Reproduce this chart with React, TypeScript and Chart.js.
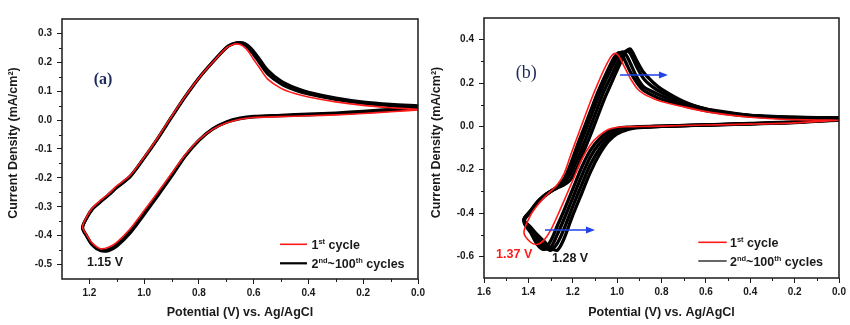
import React, { useEffect, useRef } from 'react';
import { Chart, registerables } from 'chart.js';

Chart.register(...registerables);

const FONT = '"Liberation Sans", Arial, Helvetica, sans-serif';
const SERIF = '"Liberation Serif", "Times New Roman", serif';
const X_TITLE = 'Potential (V) vs. Ag/AgCl';
const Y_TITLE = 'Current Density (mA/cm\u00B2)';

// ---------------- Panel (a) ----------------
const POT_A_FWD = [0, 0.1, 0.2, 0.3, 0.4, 0.5, 0.6, 0.65, 0.7, 0.75, 0.8, 0.85, 0.9, 0.95, 1.0, 1.05, 1.1, 1.13, 1.16, 1.19, 1.21, 1.225];
const POT_A_REV = [1.225, 1.21, 1.19, 1.16, 1.13, 1.1, 1.05, 1.0, 0.95, 0.9, 0.85, 0.8, 0.75, 0.7, 0.68, 0.66, 0.64, 0.62, 0.6, 0.58, 0.55, 0.5, 0.45, 0.4, 0.3, 0.2, 0.1, 0.0];

const A_FIRST_FWD = [0.035, 0.029, 0.023, 0.018, 0.015, 0.012, 0.009, 0.003, -0.01, -0.032, -0.068, -0.12, -0.185, -0.25, -0.313, -0.375, -0.423, -0.44, -0.445, -0.425, -0.397, -0.37];
const A_FIRST_REV = [-0.37, -0.335, -0.305, -0.278, -0.255, -0.228, -0.19, -0.128, -0.06, 0.013, 0.083, 0.146, 0.2, 0.25, 0.26, 0.264, 0.257, 0.238, 0.21, 0.183, 0.143, 0.11, 0.092, 0.08, 0.063, 0.051, 0.043, 0.037];

const A_C2_FWD = [0.04, 0.033, 0.027, 0.022, 0.018, 0.015, 0.011, 0.005, -0.008, -0.032, -0.07, -0.123, -0.19, -0.256, -0.32, -0.382, -0.43, -0.448, -0.45, -0.43, -0.4, -0.372];
const A_C2_REV = [-0.372, -0.338, -0.308, -0.282, -0.258, -0.232, -0.193, -0.13, -0.062, 0.011, 0.082, 0.146, 0.201, 0.252, 0.263, 0.268, 0.264, 0.25, 0.226, 0.2, 0.161, 0.125, 0.104, 0.09, 0.071, 0.058, 0.05, 0.045];

const A_C100_FWD = [0.047, 0.038, 0.031, 0.025, 0.021, 0.017, 0.013, 0.007, -0.006, -0.03, -0.07, -0.125, -0.195, -0.262, -0.327, -0.39, -0.437, -0.452, -0.452, -0.432, -0.402, -0.374];
const A_C100_REV = [-0.374, -0.34, -0.31, -0.284, -0.26, -0.234, -0.195, -0.132, -0.064, 0.009, 0.08, 0.145, 0.2, 0.25, 0.262, 0.268, 0.268, 0.258, 0.238, 0.213, 0.174, 0.135, 0.112, 0.097, 0.077, 0.063, 0.055, 0.05];

const X_TICKS_A = [1.2, 1.0, 0.8, 0.6, 0.4, 0.2, 0.0];
const X_MINOR_A = [1.1, 0.9, 0.7, 0.5, 0.3, 0.1];
const Y_TICKS_A = [-0.5, -0.4, -0.3, -0.2, -0.1, 0.0, 0.1, 0.2, 0.3];
const Y_MINOR_A = [-0.45, -0.35, -0.25, -0.15, -0.05, 0.05, 0.15, 0.25];

// ---------------- Panel (b) ----------------
const POT_B_FWD = [0, 0.2, 0.4, 0.6, 0.8, 0.9, 0.95, 1.0, 1.04, 1.08, 1.12, 1.16, 1.2, 1.24, 1.27, 1.3, 1.33, 1.36, 1.39, 1.42];
const POT_B_REV = [1.42, 1.39, 1.36, 1.33, 1.3, 1.27, 1.24, 1.21, 1.18, 1.15, 1.12, 1.09, 1.06, 1.03, 1.015, 1.0, 0.985, 0.97, 0.955, 0.94, 0.91, 0.88, 0.84, 0.8, 0.7, 0.6, 0.5, 0.4, 0.3, 0.2, 0.1, 0.0];

const B_FIRST_FWD = [0.028, 0.016, 0.01, 0.006, 0.001, -0.001, -0.002, -0.004, -0.015, -0.042, -0.085, -0.155, -0.25, -0.345, -0.415, -0.48, -0.525, -0.545, -0.535, -0.49];
const B_FIRST_REV = [-0.49, -0.41, -0.365, -0.33, -0.3, -0.27, -0.22, -0.135, -0.05, 0.033, 0.115, 0.19, 0.26, 0.318, 0.335, 0.333, 0.312, 0.28, 0.25, 0.22, 0.175, 0.15, 0.13, 0.115, 0.09, 0.068, 0.053, 0.042, 0.035, 0.031, 0.029, 0.028];

const B_C2_FWD = [0.029, 0.017, 0.011, 0.006, 0.001, -0.002, -0.004, -0.01, -0.025, -0.058, -0.11, -0.19, -0.29, -0.39, -0.46, -0.53, -0.568, -0.545, -0.49, -0.44];
const B_C2_REV = [-0.44, -0.395, -0.355, -0.325, -0.302, -0.28, -0.245, -0.175, -0.09, -0.01, 0.07, 0.15, 0.22, 0.285, 0.315, 0.335, 0.338, 0.315, 0.282, 0.25, 0.2, 0.165, 0.143, 0.125, 0.096, 0.073, 0.058, 0.047, 0.041, 0.037, 0.035, 0.034];

const B_C10_FWD = [0.03, 0.018, 0.012, 0.006, 0.0, -0.003, -0.007, -0.018, -0.04, -0.08, -0.14, -0.23, -0.33, -0.43, -0.5, -0.56, -0.565, -0.53, -0.48, -0.435];
const B_C10_REV = [-0.435, -0.393, -0.353, -0.323, -0.3, -0.28, -0.25, -0.195, -0.12, -0.04, 0.04, 0.12, 0.195, 0.26, 0.29, 0.318, 0.338, 0.342, 0.322, 0.29, 0.225, 0.182, 0.16, 0.14, 0.103, 0.077, 0.06, 0.049, 0.043, 0.039, 0.037, 0.036];

const B_C50_FWD = [0.031, 0.019, 0.012, 0.007, 0.0, -0.004, -0.01, -0.026, -0.055, -0.105, -0.175, -0.27, -0.37, -0.475, -0.54, -0.572, -0.55, -0.515, -0.47, -0.43];
const B_C50_REV = [-0.43, -0.39, -0.35, -0.32, -0.3, -0.282, -0.26, -0.22, -0.155, -0.08, 0.0, 0.08, 0.16, 0.225, 0.258, 0.29, 0.318, 0.34, 0.348, 0.335, 0.272, 0.22, 0.182, 0.156, 0.11, 0.08, 0.062, 0.051, 0.045, 0.041, 0.039, 0.038];

const B_C100_FWD = [0.032, 0.02, 0.013, 0.007, 0.0, -0.006, -0.014, -0.035, -0.07, -0.13, -0.21, -0.31, -0.41, -0.52, -0.572, -0.56, -0.53, -0.5, -0.465, -0.43];
const B_C100_REV = [-0.43, -0.39, -0.35, -0.32, -0.3, -0.285, -0.27, -0.245, -0.19, -0.115, -0.04, 0.04, 0.12, 0.19, 0.225, 0.26, 0.293, 0.325, 0.35, 0.356, 0.3, 0.248, 0.205, 0.172, 0.115, 0.081, 0.064, 0.05, 0.046, 0.042, 0.04, 0.04];

const X_TICKS_B = [1.6, 1.4, 1.2, 1.0, 0.8, 0.6, 0.4, 0.2, 0.0];
const X_MINOR_B = [1.5, 1.3, 1.1, 0.9, 0.7, 0.5, 0.3, 0.1];
const Y_TICKS_B = [-0.6, -0.4, -0.2, 0.0, 0.2, 0.4];
const Y_MINOR_B = [-0.5, -0.3, -0.1, 0.1, 0.3];

// legend labels (normal, superscript, normal, ...)
const LEGEND_FIRST = ['1', 'st', ' cycle'];
const LEGEND_REST = ['2', 'nd', '~100', 'th', ' cycles'];

function loop(fx: number[], fy: number[], rx: number[], ry: number[]) {
  const pts = fx.map((x, i) => ({ x, y: fy[i] }));
  rx.forEach((x, i) => {
    if (i > 0) pts.push({ x, y: ry[i] });
  });
  return pts;
}

function line(data: any[], color: string, width: number, order: number) {
  return {
    data,
    showLine: true,
    borderColor: color,
    backgroundColor: color,
    borderWidth: width,
    pointRadius: 0,
    tension: 0.3,
    borderJoinStyle: 'round',
    borderCapStyle: 'round',
    fill: false,
    order,
  };
}

type Decor = {
  xMinor: number[];
  yMinor: number[];
  yTitleX: number;
  yTitleY: number;
  label: { text: string; font: string; v: number; i: number };
  notes: { text: string; color: string; v: number; i: number }[];
  arrows: { v1: number; v2: number; i: number }[];
  legend: { x1: number; x2: number; tx: number; rows: { dy: number; color: string; width: number; parts: string[] }[] };
};

function makeDecor(d: Decor) {
  return {
    id: 'decor',
    afterDraw(chart: any) {
      const { ctx, chartArea: a, scales } = chart;
      const xs = scales.x;
      const ys = scales.y;
      ctx.save();
      // frame
      ctx.strokeStyle = '#1a1a1a';
      ctx.lineWidth = 1.5;
      ctx.strokeRect(a.left, a.top, a.right - a.left, a.bottom - a.top);
      // minor ticks
      ctx.lineWidth = 1;
      ctx.beginPath();
      d.xMinor.forEach((v) => {
        const px = Math.round(xs.getPixelForValue(v)) + 0.5;
        ctx.moveTo(px, a.bottom);
        ctx.lineTo(px, a.bottom + 3);
      });
      d.yMinor.forEach((v) => {
        const py = Math.round(ys.getPixelForValue(v)) + 0.5;
        ctx.moveTo(a.left - 3, py);
        ctx.lineTo(a.left, py);
      });
      ctx.stroke();

      // y title
      ctx.save();
      ctx.translate(d.yTitleX, d.yTitleY);
      ctx.rotate(-Math.PI / 2);
      ctx.font = `bold 12.5px ${FONT}`;
      ctx.textAlign = 'center';
      ctx.textBaseline = 'middle';
      ctx.fillStyle = '#1a1a1a';
      ctx.fillText(Y_TITLE, 0, 0);
      ctx.restore();

      // panel label
      ctx.font = d.label.font;
      ctx.fillStyle = '#1d2b5a';
      ctx.textAlign = 'center';
      ctx.textBaseline = 'middle';
      ctx.fillText(d.label.text, xs.getPixelForValue(d.label.v), ys.getPixelForValue(d.label.i));

      // notes
      ctx.font = `bold 12.5px ${FONT}`;
      d.notes.forEach((n) => {
        ctx.fillStyle = n.color;
        ctx.fillText(n.text, xs.getPixelForValue(n.v), ys.getPixelForValue(n.i));
      });

      // arrows
      ctx.strokeStyle = '#2143e8';
      ctx.fillStyle = '#2143e8';
      ctx.lineWidth = 1.5;
      d.arrows.forEach((ar) => {
        const x1 = xs.getPixelForValue(ar.v1);
        const x2 = xs.getPixelForValue(ar.v2);
        const y = ys.getPixelForValue(ar.i);
        ctx.beginPath();
        ctx.moveTo(x1, y);
        ctx.lineTo(x2 - 6, y);
        ctx.stroke();
        ctx.beginPath();
        ctx.moveTo(x2, y);
        ctx.lineTo(x2 - 9, y - 3.5);
        ctx.lineTo(x2 - 9, y + 3.5);
        ctx.closePath();
        ctx.fill();
      });

      // legend
      const L = d.legend;
      L.rows.forEach((r) => {
        const y = a.bottom + r.dy;
        ctx.strokeStyle = r.color;
        ctx.lineWidth = r.width;
        ctx.beginPath();
        ctx.moveTo(a.right + L.x1, y);
        ctx.lineTo(a.right + L.x2, y);
        ctx.stroke();
        let cx = a.right + L.tx;
        ctx.fillStyle = '#1a1a1a';
        ctx.textAlign = 'left';
        ctx.textBaseline = 'alphabetic';
        r.parts.forEach((p, k) => {
          if (k % 2 === 1) {
            ctx.font = `bold 7.5px ${FONT}`;
            ctx.fillText(p, cx, y - 0.5);
          } else {
            ctx.font = `bold 12.5px ${FONT}`;
            ctx.fillText(p, cx, y + 4.5);
          }
          cx += ctx.measureText(p).width;
        });
      });
      ctx.restore();
    },
  };
}

type PanelSpec = {
  datasets: any[];
  xMin: number;
  xMax: number;
  yMin: number;
  yMax: number;
  xTicks: number[];
  yTicks: number[];
  yAxisW: number;
  xAxisH: number;
  padTop: number;
  padRight: number;
  decor: Decor;
};

function buildConfig(p: PanelSpec): any {
  const tickFont = { size: 10, weight: 'bold', family: FONT };
  const grid = { drawOnChartArea: false, drawTicks: true, tickLength: 5, color: '#1a1a1a', tickColor: '#1a1a1a', tickWidth: 1 };
  return {
    type: 'scatter',
    data: { datasets: p.datasets },
    options: {
      responsive: false,
      animation: false,
      events: [],
      layout: { padding: { left: 0, right: p.padRight, top: p.padTop, bottom: 0 } },
      plugins: { legend: { display: false }, tooltip: { enabled: false } },
      scales: {
        x: {
          type: 'linear',
          position: 'bottom',
          reverse: true,
          min: p.xMin,
          max: p.xMax,
          afterBuildTicks: (s: any) => {
            s.ticks = p.xTicks.map((value) => ({ value }));
          },
          afterFit: (s: any) => {
            s.height = p.xAxisH;
            s.paddingLeft = 0;
            s.paddingRight = 0;
          },
          ticks: {
            callback: (v: any) => Number(v).toFixed(1),
            font: tickFont,
            color: '#1a1a1a',
            padding: 3,
            maxRotation: 0,
            autoSkip: false,
          },
          grid,
          border: { display: false },
          title: {
            display: true,
            text: X_TITLE,
            font: { size: 12.5, weight: 'bold', family: FONT },
            color: '#1a1a1a',
            padding: { top: 0, bottom: 4.5 },
          },
        },
        y: {
          type: 'linear',
          position: 'left',
          min: p.yMin,
          max: p.yMax,
          afterBuildTicks: (s: any) => {
            s.ticks = p.yTicks.map((value) => ({ value }));
          },
          afterFit: (s: any) => {
            s.width = p.yAxisW;
          },
          ticks: {
            callback: (v: any) => Number(v).toFixed(1),
            font: tickFont,
            color: '#1a1a1a',
            padding: 5,
            autoSkip: false,
          },
          grid,
          border: { display: false },
        },
      },
    },
    plugins: [makeDecor(p.decor)],
  };
}

const SPEC_A: PanelSpec = {
  datasets: [
    line(loop(POT_A_FWD, A_FIRST_FWD, POT_A_REV, A_FIRST_REV), '#ff1a1a', 1.6, 0),
    line(loop(POT_A_FWD, A_C2_FWD, POT_A_REV, A_C2_REV), '#000000', 3, 1),
    line(loop(POT_A_FWD, A_C100_FWD, POT_A_REV, A_C100_REV), '#000000', 3, 2),
  ],
  xMin: 0,
  xMax: 1.3,
  yMin: -0.55,
  yMax: 0.35,
  xTicks: X_TICKS_A,
  yTicks: Y_TICKS_A,
  yAxisW: 62,
  xAxisH: 46,
  padTop: 19,
  padRight: 7,
  decor: {
    xMinor: X_MINOR_A,
    yMinor: Y_MINOR_A,
    yTitleX: 14,
    yTitleY: 143,
    label: { text: '(a)', font: `bold 16px ${SERIF}`, v: 1.15, i: 0.139 },
    notes: [{ text: '1.15 V', color: '#1a1a1a', v: 1.143, i: -0.493 }],
    arrows: [],
    legend: {
      x1: -138,
      x2: -111,
      tx: -106.5,
      rows: [
        { dy: -34.7, color: '#ff1a1a', width: 1.6, parts: LEGEND_FIRST },
        { dy: -15.7, color: '#000000', width: 2.2, parts: LEGEND_REST },
      ],
    },
  },
};

const SPEC_B: PanelSpec = {
  datasets: [
    line(loop(POT_B_FWD, B_FIRST_FWD, POT_B_REV, B_FIRST_REV), '#ff1a1a', 1.6, 0),
    line(loop(POT_B_FWD, B_C2_FWD, POT_B_REV, B_C2_REV), '#000000', 3.3, 1),
    line(loop(POT_B_FWD, B_C10_FWD, POT_B_REV, B_C10_REV), '#000000', 3.3, 2),
    line(loop(POT_B_FWD, B_C50_FWD, POT_B_REV, B_C50_REV), '#000000', 3.3, 3),
    line(loop(POT_B_FWD, B_C100_FWD, POT_B_REV, B_C100_REV), '#000000', 3.3, 4),
  ],
  xMin: 0,
  xMax: 1.6,
  yMin: -0.7,
  yMax: 0.5,
  xTicks: X_TICKS_B,
  yTicks: Y_TICKS_B,
  yAxisW: 59,
  xAxisH: 47,
  padTop: 18,
  padRight: 11,
  decor: {
    xMinor: X_MINOR_B,
    yMinor: Y_MINOR_B,
    yTitleX: 12,
    yTitleY: 142.5,
    label: { text: '(b)', font: `18px ${SERIF}`, v: 1.41, i: 0.246 },
    notes: [
      { text: '1.37 V', color: '#ff1a1a', v: 1.464, i: -0.593 },
      { text: '1.28 V', color: '#1a1a1a', v: 1.212, i: -0.611 },
    ],
    arrows: [
      { v1: 0.987, v2: 0.771, i: 0.237 },
      { v1: 1.325, v2: 1.1, i: -0.479 },
    ],
    legend: {
      x1: -140.7,
      x2: -112.3,
      tx: -109,
      rows: [
        { dy: -35.7, color: '#ff1a1a', width: 1.6, parts: LEGEND_FIRST },
        { dy: -17, color: '#000000', width: 1.2, parts: LEGEND_REST },
      ],
    },
  },
};

function Panel({ left, spec }: { left: number; spec: PanelSpec }) {
  const ref = useRef<HTMLCanvasElement | null>(null);
  useEffect(() => {
    if (!ref.current) return;
    const chart = new Chart(ref.current, buildConfig(spec));
    return () => chart.destroy();
  }, [spec]);
  return (
    <canvas
      ref={ref}
      width={425}
      height={325}
      style={{ position: 'absolute', left, top: 0, width: 425, height: 325, display: 'block' }}
    />
  );
}

export default function App() {
  return (
    <div style={{ position: 'fixed', left: 0, top: 0, width: 850, height: 325, background: '#ffffff', overflow: 'hidden' }}>
      <Panel left={0} spec={SPEC_A} />
      <Panel left={425} spec={SPEC_B} />
    </div>
  );
}
